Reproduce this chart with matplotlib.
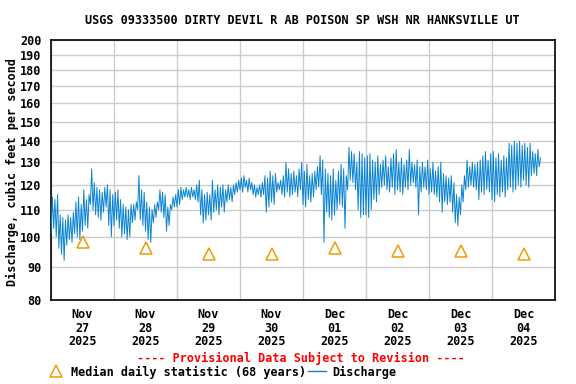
import numpy as np
import matplotlib
matplotlib.use('Agg')
import matplotlib.pyplot as plt
import matplotlib.dates as mdates
from matplotlib.lines import Line2D
from matplotlib.ticker import FixedLocator, FixedFormatter, NullLocator

# Hourly (low, high) readings of the 15-minute discharge, cfs, one list per day
nov27 = [(101,115),(103,114),(100,116),(96,108),(94,107),(92,106),(97,108),(99,107),
         (98,109),(101,113),(100,115),(99,112),(102,118),(104,114),(103,116),(112,127),
         (110,121),(108,119),(107,118),(106,117),(109,119),(111,120),(104,118),(100,116)]
nov28 = [(104,117),(106,118),(103,114),(100,112),(101,111),(99,110),(100,112),(105,112),
         (106,113),(110,124),(106,118),(104,117),(102,113),(99,111),(98,110),(105,112),
         (107,113),(110,118),(109,117),(107,116),(102,111),(104,112),(110,115),(111,116)]
nov29 = [(111,118),(112,119),(114,118),(115,119),(115,118),(114,119),(115,118),(114,120),
         (113,122),(108,118),(105,116),(106,117),(108,116),(106,122),(109,118),(110,120),
         (108,119),(111,120),(109,118),(113,120),(114,119),(113,120),(116,121),(117,122)]
nov30 = [(118,123),(117,124),(119,122),(117,123),(118,121),(116,120),(115,119),(116,120),
         (115,121),(116,124),(109,123),(111,126),(113,124),(112,125),(117,121),(118,122),
         (116,124),(115,130),(117,127),(115,125),(116,126),(117,124),(115,127),(118,130)]
dec01 = [(112,126),(111,129),(114,124),(113,125),(115,126),(118,128),(119,133),(116,131),
         (98,127),(109,125),(107,124),(106,127),(108,122),(110,126),(112,129),(111,127),
         (103,124),(118,137),(122,135),(121,134),(118,130),(110,135),(107,134),(108,132)]
dec02 = [(108,133),(107,134),(110,131),(114,130),(113,133),(116,129),(119,131),(120,133),
         (118,128),(117,132),(119,134),(116,136),(118,130),(117,132),(116,129),(119,131),
         (118,136),(120,130),(121,129),(119,131),(108,128),(117,130),(119,128),(118,131)]
dec03 = [(116,127),(117,130),(116,126),(115,128),(113,130),(109,125),(113,124),(112,123),
         (113,124),(109,121),(105,116),(104,115),(108,120),(113,124),(118,131),(119,128),
         (120,130),(119,129),(118,130),(114,131),(117,133),(116,135),(118,131),(117,134)]
dec04 = [(114,135),(113,132),(116,134),(115,131),(117,133),(115,132),(118,139),(119,138),
         (117,140),(118,139),(120,140),(119,138),(122,139),(120,137),(119,139),(124,135),
         (125,134),(124,136),(128,132)]

days = ['2025-11-27', '2025-11-28', '2025-11-29', '2025-11-30',
        '2025-12-01', '2025-12-02', '2025-12-03', '2025-12-04']
median_cfs = [98, 96, 94, 94, 96, 95, 95, 94]

yticks = [80, 90, 100, 110, 120, 130, 140, 150, 160, 170, 180, 190, 200]

# build the series: low on the hour, high on the half hour
hourly = nov27 + nov28 + nov29 + nov30 + dec01 + dec02 + dec03 + dec04
start = mdates.datestr2num(days[0])
t, q = [], []
for i, (lo, hi) in enumerate(hourly):
    t += [start + i / 24.0, start + (i + 0.5) / 24.0]
    q += [lo, hi]

day_num = np.array([mdates.datestr2num(d) for d in days])

plt.rcParams['font.family'] = 'DejaVu Sans Mono'
plt.rcParams['font.weight'] = 'bold'
plt.rcParams['font.size'] = 8.5

fig = plt.figure(figsize=(5.76, 3.84), dpi=100)
ax = fig.add_axes([51/576, 1-300/384, 504/576, 260/384])

ax.plot(t, q, color='#0a84d2', lw=0.7, zorder=3)
ax.plot(day_num + 0.5, median_cfs, linestyle='none', marker='^', ms=8,
        mfc='none', mec='#f29a00', mew=1.1, zorder=4)

ax.set_yscale('log')
ax.set_ylim(80, 200)
ax.yaxis.set_major_locator(FixedLocator(yticks))
ax.yaxis.set_major_formatter(FixedFormatter([str(v) for v in yticks]))
ax.yaxis.set_minor_locator(NullLocator())

ax.set_xlim(day_num[0], day_num[0] + 8)
ax.set_xticks(list(day_num) + [day_num[-1] + 1])
ax.set_xticklabels([])
ax.set_xticks(day_num + 0.5, minor=True)
ax.set_xticklabels([mdates.num2date(d).strftime('%b\n%d\n%Y') for d in day_num],
                   minor=True, linespacing=1.05)

ax.grid(True, which='major', color='#cccccc', lw=1)
ax.tick_params(axis='both', which='both', length=0)
ax.tick_params(axis='y', pad=7)
ax.tick_params(axis='x', which='minor', pad=6)
for s in ax.spines.values():
    s.set_color('black')
    s.set_linewidth(1.2)

fig.text(12/576, 1-172/384, 'Discharge, cubic feet per second',
         rotation=90, ha='center', va='center')
fig.text(0.524, 1-20/384, 'USGS 09333500 DIRTY DEVIL R AB POISON SP WSH NR HANKSVILLE UT',
         ha='center', va='center')

fig.text(0.523, 1-358/384, '---- Provisional Data Subject to Revision ----',
         ha='center', va='center', color='red')

handles = [Line2D([], [], linestyle='none', marker='^', ms=8, mfc='none', mec='#f29a00', mew=1.1),
           Line2D([], [], color='#0a84d2', lw=1.0)]
fig.legend(handles, ['Median daily statistic (68 years)', 'Discharge'],
           loc='center', bbox_to_anchor=(0.385, 1-372/384), ncol=2, frameon=False,
           handlelength=1.5, handletextpad=0.5, columnspacing=0.2, borderpad=0)

fig.savefig('out.png', dpi=100)
